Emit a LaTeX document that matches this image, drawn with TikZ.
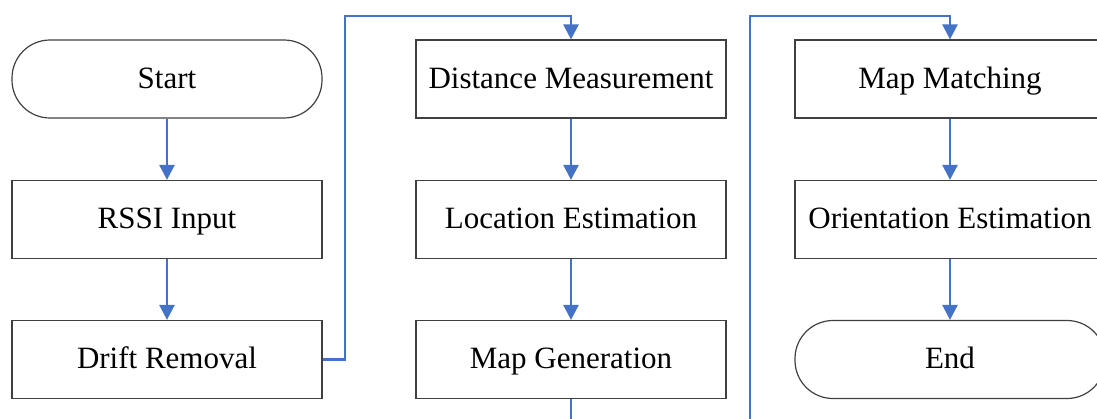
\documentclass[tikz,border=0pt]{standalone}
\usepackage{fontspec}
\setmainfont{Liberation Serif}
\usetikzlibrary{arrows.meta}

\definecolor{flowblue}{RGB}{68,114,196}
\definecolor{boxgray}{RGB}{64,64,64}

\tikzset{
  stepbox/.style={draw=boxgray, line width=0.6pt, minimum width=155pt, minimum height=39pt,
    inner sep=0pt, text height=12pt, text depth=3pt, font=\fontsize{15.5}{18}\selectfont},
  termbox/.style={stepbox, rounded corners=19pt},
  flow/.style={draw=flowblue, line width=1.3pt, -{Triangle[width=7.5pt,length=7.5pt]}}
}

\begin{document}
\begin{tikzpicture}[x=0.5pt,y=-0.5pt]
\clip (0,0) rectangle (1097,418);

% first column
\node[termbox] (start) at (167,79) {Start};
\node[stepbox] (rssi) at (167,219.5) {RSSI Input};
\node[stepbox] (drift) at (167,359.5) {Drift Removal};

% second column
\node[stepbox] (dist) at (571,79) {Distance Measurement};
\node[stepbox] (loc) at (571,219.5) {Location Estimation};
\node[stepbox] (mapgen) at (571,359.5) {Map Generation};

% third column
\node[stepbox] (match) at (950,79) {Map Matching};
\node[stepbox] (orient) at (950,219.5) {Orientation Estimation};
\node[termbox] (end) at (950,359.5) {End};

% arrows down the columns
\foreach \a/\b in {start/rssi,rssi/drift,dist/loc,loc/mapgen,match/orient,orient/end}
\draw[flow] (\a.south) -- (\b.north);

% arrows from one column to the next
\draw[flow] (drift.east) -- (345,359.5) -- (345,16) -- (571,16) -- (dist.north);
\draw[flow] (mapgen.south) -- (571,440) -- (750,440) -- (750,16) -- (950,16) -- (match.north);

\end{tikzpicture}
\end{document}
